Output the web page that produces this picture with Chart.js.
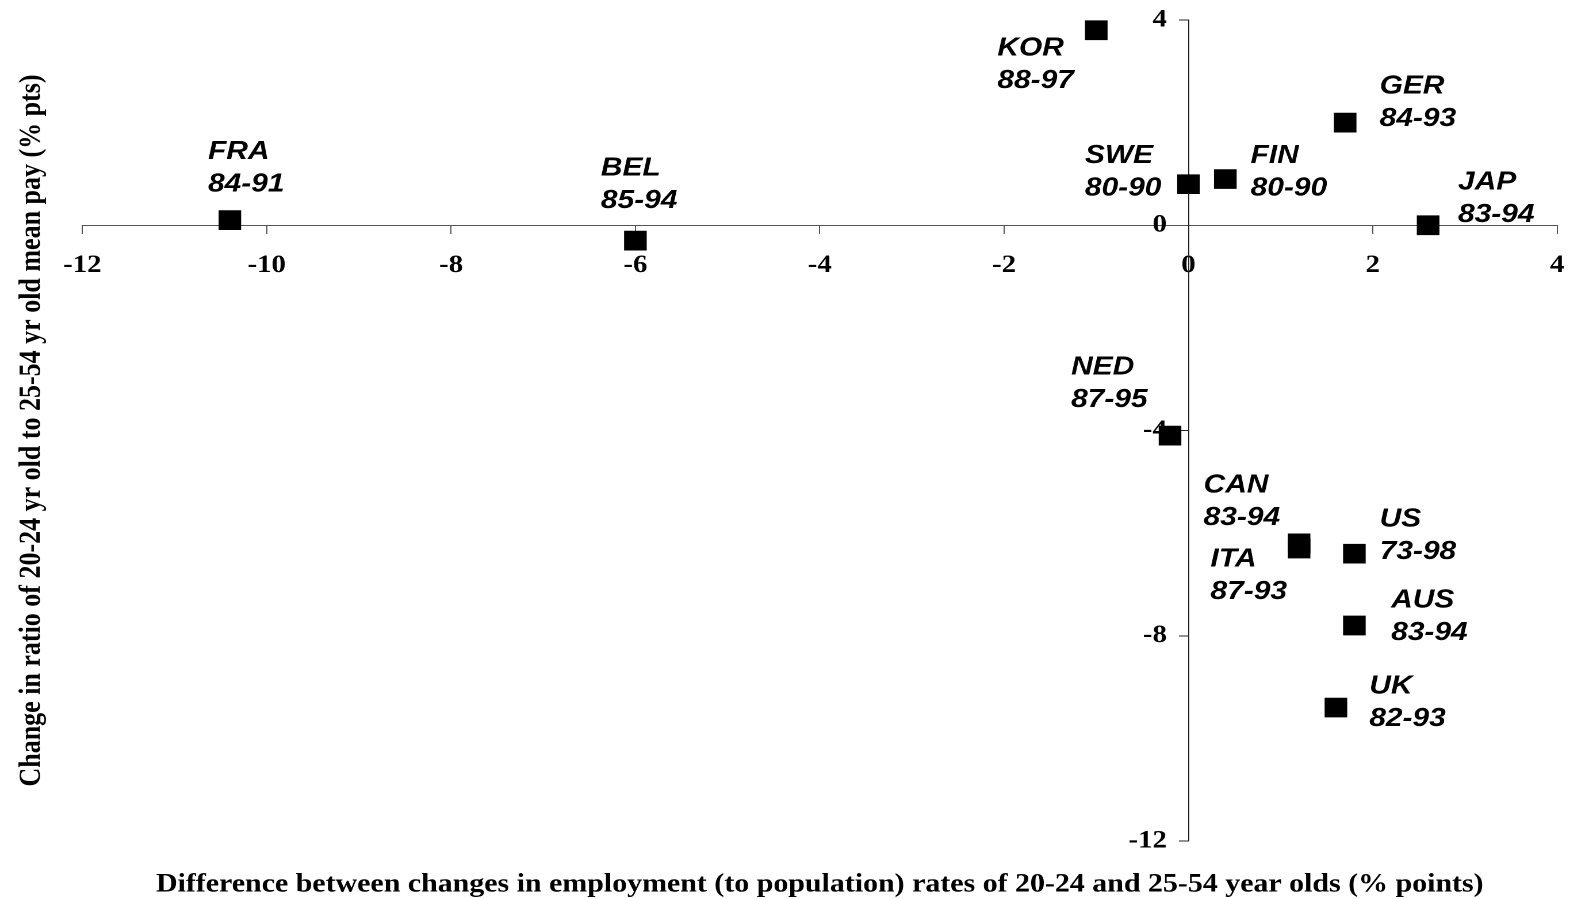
<!DOCTYPE html>
<html>
<head>
<meta charset="utf-8">
<title>Youth employment vs relative pay</title>
<script src="https://cdn.jsdelivr.net/npm/chart.js@4.4.1/dist/chart.umd.min.js"></script>
<style>
    html, body { margin: 0; padding: 0; background: #fff; overflow: hidden; }
    /* the original picture is stretched sideways, so we draw narrower and scale up */
    #wrap {
        width: 1368px;
        height: 899px;
        transform: scaleX(1.1502);
        transform-origin: 0 0;
    }
</style>
</head>
<body>
<div id="wrap"><canvas id="chart" width="1368" height="899"></canvas></div>

<script>
/* ---------- data ---------- */
const countries     = ["FRA", "BEL", "KOR", "SWE", "FIN", "GER", "JAP", "NED", "CAN", "ITA", "US", "AUS", "UK"];
const periods       = ["84-91", "85-94", "88-97", "80-90", "80-90", "84-93", "83-94", "87-95", "83-94", "87-93", "73-98", "83-94", "82-93"];
const employmentGap = [-10.4, -6.0, -1.0, 0.0, 0.4, 1.7, 2.6, -0.2, 1.2, 1.2, 1.8, 1.8, 1.6];
const payChange     = [0.1, -0.3, 3.8, 0.8, 0.9, 2.0, 0.0, -4.1, -6.2, -6.3, -6.4, -7.8, -9.4];

const xTitle = "Difference between changes in employment (to population) rates of 20-24 and 25-54 year olds (% points)";
const yTitle = "Change in ratio of 20-24 yr old to 25-54 yr old mean pay (% pts)";

/* ---------- where each country label sits, relative to its marker (px) ---------- */
const labelOffsets = {
    FRA: [-19, -61], BEL: [-30, -65], KOR: [-86, 25], SWE: [-90, -21],
    FIN: [22, -16],  GER: [30, -29],  JAP: [26, -36], NED: [-86, -61],
    CAN: [-83, -51], ITA: [-77, 18],  US:  [22, -27], AUS: [32, -18],
    UK:  [29, -14]
};
const LINE_GAP = 32.5;

// labels next to the squares: country code + years, bold italic
const pointLabels = {
    id: "pointLabels",
    afterDatasetsDraw(chart) {
        const ctx  = chart.ctx;
        const meta = chart.getDatasetMeta(0);
        ctx.save();
        ctx.font = "italic bold 26px 'Liberation Sans', Arial, sans-serif";
        ctx.fillStyle = "#000";
        ctx.textAlign = "left";
        ctx.textBaseline = "alphabetic";
        meta.data.forEach((pt, i) => {
            const off = labelOffsets[countries[i]];
            ctx.fillText(countries[i], pt.x + off[0], pt.y + off[1]);
            ctx.fillText(periods[i],   pt.x + off[0], pt.y + off[1] + LINE_GAP);
        });
        ctx.restore();
    }
};

const serif = "'Liberation Serif', 'Times New Roman', serif";
// tall line height on x ticks pushes the labels down without padding the sides
const xTickFont = { family: serif, size: 25, weight: "bold", lineHeight: 2.57 };
const yTickFont = { family: serif, size: 25, weight: "bold" };
const titleFont = { family: serif, size: 26, weight: "bold", lineHeight: 1 };

new Chart(document.getElementById("chart"), {
    type: "scatter",
    data: {
        datasets: [{
            data: employmentGap.map((x, i) => ({ x: x, y: payChange[i] })),
            pointStyle: "rect",
            pointRadius: 13.2,
            pointHoverRadius: 13.2,
            backgroundColor: "#000",
            borderColor: "#000",
            borderWidth: 1
        }]
    },
    options: {
        responsive: false,
        animation: false,
        devicePixelRatio: 2,
        layout: { padding: { top: 20, right: 10.9, left: 0, bottom: 0 } },
        plugins: {
            legend:  { display: false },
            tooltip: { enabled: false },
            title: {
                display: true, position: "left", fullSize: false,
                text: yTitle, color: "#000", font: titleFont,
                padding: { top: 14.8, bottom: 30.8 }
            },
            subtitle: {
                display: true, position: "bottom", fullSize: false,
                text: xTitle, color: "#000", font: titleFont,
                padding: { top: 31, bottom: 1 }
            }
        },
        scales: {
            x: {
                type: "linear",
                position: { y: 0 },
                min: -12, max: 4,
                ticks: {
                    stepSize: 2, color: "#000", font: xTickFont, padding: 0,
                    minRotation: 0, maxRotation: 0, autoSkip: false
                },
                grid:  { drawOnChartArea: false, drawTicks: true, tickLength: 8, color: "#555" },
                border: { color: "#555", width: 1 }
            },
            y: {
                type: "linear",
                position: { x: 0 },
                min: -12, max: 4,
                ticks: {
                    stepSize: 4, color: "#000", font: yTickFont, padding: 0,
                    // labels of a centred y axis sit on the axis line; trailing spaces move them left
                    callback: (v) => v + "   "
                },
                grid:  { drawOnChartArea: false, drawTicks: true, tickLength: 8, color: "#222" },
                border: { color: "#222", width: 1 }
            }
        }
    },
    plugins: [pointLabels]
});
</script>
</body>
</html>
